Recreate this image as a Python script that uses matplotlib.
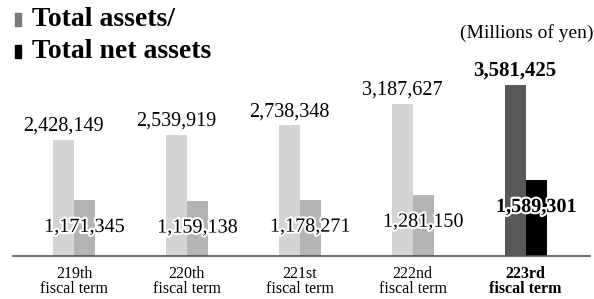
import matplotlib
matplotlib.use("Agg")
import matplotlib.pyplot as plt
import matplotlib.patheffects as pe
from matplotlib.patches import Rectangle

terms = ["219th\nfiscal term", "220th\nfiscal term", "221st\nfiscal term",
         "222nd\nfiscal term", "223rd\nfiscal term"]
total_assets = [2428149, 2539919, 2738348, 3187627, 3581425]
net_assets = [1171345, 1159138, 1178271, 1281150, 1589301]

light_cols = ["#d4d4d4"] * 4 + ["#585858"]
net_cols = ["#b4b4b4"] * 4 + ["#000000"]

SERIF = "Liberation Serif"
plt.rcParams["font.family"] = "serif"
plt.rcParams["font.serif"] = [SERIF, "DejaVu Serif"]

W, H = 594, 299
fig = plt.figure(figsize=(W / 100, H / 100), dpi=100)
# axes: left 13 px, right 590 px, baseline at y=256 px from top
ax = fig.add_axes([13 / W, 43 / H, (590 - 13) / W, (H - 43) / H])
px_per_unit = 116 / 2428149
ax.set_ylim(0, (H - 43) / px_per_unit)
ax.set_xlim(-0.54, 4.57)

w = 0.186
x = list(range(len(terms)))
for i in x:
    ax.bar(i - w / 2, total_assets[i], w, color=light_cols[i])
    ax.bar(i + w / 2, net_assets[i], w, color=net_cols[i])

    last = i == len(terms) - 1
    fw = "bold" if last else "normal"
    ax.annotate(f"{total_assets[i]:,}", (i - w / 2, total_assets[i]),
                xytext=(0, 6.5), textcoords="offset points",
                ha="center", va="baseline", fontsize=15 if last else 14.5,
                fontweight=fw, family=SERIF)
    ax.annotate(f"{net_assets[i]:,}", (i + w / 2, net_assets[i]),
                xytext=(0, -23), textcoords="offset points",
                ha="center", va="baseline", fontsize=14.5, fontweight=fw,
                family=SERIF,
                path_effects=[pe.withStroke(linewidth=3, foreground="white")])

ax.set_xticks(x)
ax.set_xticklabels(terms, fontsize=11.5, linespacing=0.9, family=SERIF)
for lbl in ax.get_xticklabels()[-1:]:
    lbl.set_fontweight("bold")
ax.tick_params(axis="x", length=0, pad=7.5)
ax.set_yticks([])
for s in ["top", "right", "left"]:
    ax.spines[s].set_visible(False)
ax.spines["bottom"].set_color("#555555")
ax.spines["bottom"].set_linewidth(1.2)

# title with legend squares
fig.text(32 / W, 1 - 19 / H, "Total assets/", fontsize=20, fontweight="bold",
         va="center", ha="left", family=SERIF)
fig.text(32 / W, 1 - 51 / H, "Total net assets", fontsize=20, fontweight="bold",
         va="center", ha="left", family=SERIF)
fig.patches.append(Rectangle((15 / W, 1 - 26 / H), 6 / W, 13 / H,
                             transform=fig.transFigure, color="#7a7a7a"))
fig.patches.append(Rectangle((15 / W, 1 - 58 / H), 6 / W, 13 / H,
                             transform=fig.transFigure, color="#000000"))
fig.text(593 / W, 1 - 33 / H, "(Millions of yen)", fontsize=14,
         ha="right", va="center", family=SERIF)

fig.savefig("out.png", dpi=100)
